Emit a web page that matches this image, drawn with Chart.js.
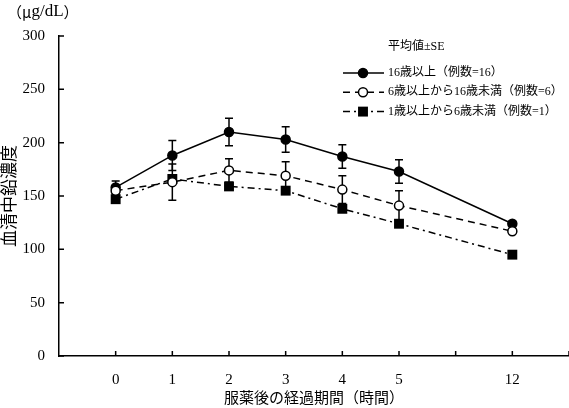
<!DOCTYPE html>
<html><head><meta charset="utf-8">
<script src="https://cdn.jsdelivr.net/npm/chart.js@4/dist/chart.umd.min.js"></script>
<style>html,body{margin:0;padding:0;background:#fff}#wrap{width:569px;height:408px;position:relative}</style>
</head><body><div id="wrap"><canvas id="c" width="569" height="408"></canvas></div>
<script>
// hours after dosing (axis is broken between 5 and 12)
const hourLabels = ['0','1','2','3','4','5','12'];
const hourSlots = [0,1,2,3,4,5,7];
const yTicks = [0,50,100,150,200,250,300];
const seriesNames = ['16歳以上（例数=16）','6歳以上から16歳未満（例数=6）','1歳以上から6歳未満（例数=1）'];
const over16 = [158,188,210,203,187,173,124];
const over16SE = [6,14,13,12,11,11,2];
const age6to16 = [155,163,174,169,156,141,117];
const age6to16SE = [4,17,11,13,13,14,2];
const age1to6 = [147,166,159,155,138,124,95];
const age1to6SE = [0,0,0,0,0,0,0];

const FONT = "'Liberation Serif','Noto Sans CJK JP',serif";
const CJK = "'Noto Sans CJK JP',serif";
const pts = arr => arr.map((v,i)=>({x:hourSlots[i], y:v}));

const stretchX = {
  id:'stretchX',
  afterLayout(chart){
    const x = chart.scales.x, a = chart.chartArea, R = chart.width;
    x.right = R; x.width = R - x.left;
    x.configure();
    a.right = R; a.width = R - a.left;
  }
};

const errorBars = {
  id:'errorBars',
  beforeDatasetsDraw(chart){
    const {ctx, scales:{x,y}} = chart;
    ctx.save();
    ctx.strokeStyle='#000'; ctx.lineWidth=1.5;
    chart.data.datasets.forEach(ds=>{
      (ds.se||[]).forEach((s,i)=>{
        if(!s) return;
        const v = ds.data[i].y;
        const px = x.getPixelForValue(ds.data[i].x);
        const t = y.getPixelForValue(v+s), b = y.getPixelForValue(v-s);
        ctx.beginPath();
        ctx.moveTo(px,t); ctx.lineTo(px,b);
        ctx.moveTo(px-4,t); ctx.lineTo(px+4,t);
        ctx.moveTo(px-4,b); ctx.lineTo(px+4,b);
        ctx.stroke();
      });
    });
    ctx.restore();
  }
};

const decor = {
  id:'decor',
  afterDraw(chart){
    const {ctx, scales:{x,y}, chartArea:a} = chart;
    ctx.save();
    ctx.strokeStyle='#000'; ctx.lineWidth=1.5;
    ctx.beginPath();
    yTicks.forEach(v=>{const py=y.getPixelForValue(v); ctx.moveTo(a.left,py); ctx.lineTo(a.left+5,py);});
    for(let k=0;k<=8;k++){const px=x.getPixelForValue(k); ctx.moveTo(px,a.bottom); ctx.lineTo(px,a.bottom-5);}
    ctx.stroke();
    // unit
    ctx.fillStyle='#000';
    ctx.textBaseline='middle'; ctx.textAlign='left';
    let ux = 7;
    const parts = [['（',CJK,15],['μ',CJK,15],['g/dL',FONT,17],['）',CJK,15]];
    parts.forEach(([t,f,sz])=>{ctx.font=sz+'px '+f; ctx.fillText(t,ux,12); ux+=ctx.measureText(t).width;});
    // legend
    ctx.font='12px '+FONT;
    ctx.fillText('平均値±SE', 388, 47);
    chart.data.datasets.forEach((ds,i)=>{
      const ly = 73 + i*19.3;
      ctx.save();
      ctx.lineWidth=1.5; ctx.setLineDash(ds.borderDash||[]);
      ctx.beginPath(); ctx.moveTo(343,ly); ctx.lineTo(384,ly); ctx.stroke();
      ctx.restore();
      const mx=363;
      ctx.lineWidth=1.5;
      if(ds.pointStyle==='rect'){
        const h=ds.pointRadius*Math.SQRT1_2;
        ctx.fillStyle='#000'; ctx.fillRect(mx-h,ly-h,2*h,2*h);
      } else {
        ctx.beginPath(); ctx.arc(mx,ly,ds.pointRadius,0,Math.PI*2);
        ctx.fillStyle=ds.pointBackgroundColor; ctx.fill(); ctx.stroke();
      }
      ctx.fillStyle='#000';
      ctx.fillText(seriesNames[i], 388, ly);
    });
    ctx.restore();
  }
};

new Chart(document.getElementById('c'), {
  type:'line',
  data:{datasets:[
    {label:seriesNames[0], data:pts(over16), se:over16SE, borderColor:'#000', borderWidth:1.5,
     pointStyle:'circle', pointRadius:4.5, pointBackgroundColor:'#000', pointBorderColor:'#000', pointBorderWidth:1.5, order:1},
    {label:seriesNames[1], data:pts(age6to16), se:age6to16SE, borderColor:'#000', borderWidth:1.5, borderDash:[7,5],
     pointStyle:'circle', pointRadius:4.5, pointBackgroundColor:'#fff', pointBorderColor:'#000', pointBorderWidth:1.5, order:0},
    {label:seriesNames[2], data:pts(age1to6), se:age1to6SE, borderColor:'#000', borderWidth:1.5, borderDash:[7,4,2,4],
     pointStyle:'rect', pointRadius:7, pointBackgroundColor:'#000', pointBorderColor:'#000', pointBorderWidth:0, order:2}
  ]},
  options:{
    responsive:false, animation:false, devicePixelRatio:1,
    layout:{padding:{top:36,right:0,left:0,bottom:0}},
    plugins:{legend:{display:false}, tooltip:{enabled:false}},
    scales:{
      x:{type:'linear', min:-1, max:8,
        afterFit(s){s.height=52; s.paddingRight=0; s.paddingLeft=0;},
        afterBuildTicks(s){s.ticks=[-1,0,1,2,3,4,5,6,7,8].map(v=>({value:v}));},
        ticks:{autoSkip:false, maxRotation:0, padding:15, color:'#000', font:{family:FONT,size:15},
          callback(v){const i=hourSlots.indexOf(v); return i>=0?hourLabels[i]:'';}},
        grid:{display:false, drawTicks:false},
        border:{display:true, color:'#000', width:1.5},
        title:{display:true, text:'服薬後の経過期間（時間）', color:'#000', font:{family:FONT,size:15}, padding:{top:0,bottom:0}}
      },
      y:{type:'linear', min:0, max:300,
        afterFit(s){s.width=59;},
        afterBuildTicks(s){s.ticks=yTicks.map(v=>({value:v}));},
        ticks:{padding:14, color:'#000', font:{family:FONT,size:15}},
        grid:{display:false, drawTicks:false},
        border:{display:true, color:'#000', width:1.5},
        title:{display:true, text:'血清中鉛濃度', color:'#000', font:{family:FONT,size:17}, padding:{top:0,bottom:0}}
      }
    }
  },
  plugins:[stretchX, errorBars, decor]
});
</script></body></html>
